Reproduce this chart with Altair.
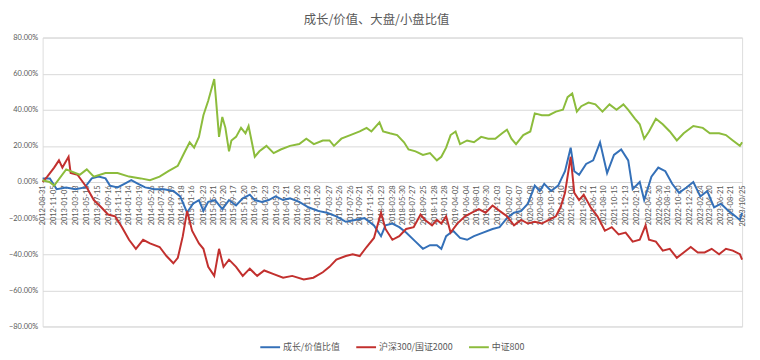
import altair as alt
import pandas as pd

TITLE = "成长/价值、大盘/小盘比值"
SERIES = ["成长/价值比值", "沪深300/国证2000", "中证800"]
COLORS = ["#3470b8", "#c2302e", "#8cbc3c"]

# 成长/价值比值 (percent)
blue_dates = ["2012-08-31", "2012-10-12", "2012-11-21", "2013-01-15", "2013-03-10", "2013-05-04", "2013-06-13",
              "2013-07-23", "2013-09-01", "2013-09-27", "2013-11-10", "2013-12-20", "2014-01-29", "2014-03-10",
              "2014-04-20", "2014-06-13", "2014-08-07", "2014-10-01", "2014-11-10", "2014-12-20", "2015-01-23",
              "2015-02-27", "2015-03-25", "2015-04-22", "2015-06-01", "2015-07-13", "2015-08-21", "2015-10-01",
              "2015-11-09", "2015-12-20", "2016-01-18", "2016-02-28", "2016-04-08", "2016-05-18", "2016-07-01",
              "2016-08-10", "2016-10-03", "2016-11-25", "2017-01-19", "2017-03-14", "2017-05-07", "2017-07-01",
              "2017-08-24", "2017-10-18", "2017-12-12", "2018-01-22", "2018-02-17", "2018-03-29", "2018-05-08",
              "2018-06-17", "2018-08-11", "2018-09-23", "2018-11-03", "2018-12-13", "2019-01-08", "2019-02-05",
              "2019-03-18", "2019-04-27", "2019-06-07", "2019-07-17", "2019-09-08", "2019-11-02", "2019-12-13",
              "2020-01-25", "2020-03-06", "2020-04-17", "2020-05-26", "2020-07-05", "2020-08-03", "2020-08-29",
              "2020-10-08", "2020-11-18", "2020-12-28", "2021-01-30", "2021-02-20", "2021-03-20", "2021-04-30",
              "2021-06-10", "2021-07-20", "2021-08-30", "2021-10-09", "2021-11-20", "2021-12-31", "2022-01-26",
              "2022-03-08", "2022-04-03", "2022-05-15", "2022-06-24", "2022-08-04", "2022-09-13", "2022-10-23",
              "2022-12-05", "2023-01-14", "2023-02-24", "2023-04-05", "2023-05-15", "2023-06-24", "2023-08-07",
              "2023-09-16", "2023-10-12", "2023-10-25"]
blue_vals = [2, 2, -4, -3, -4, -3, 2,
             3, 2, -2, -3, -1, 1, -1,
             -3, -4, -4, -5, -8, -17, -12,
             -10, -16, -11, -10, -15, -10, -13,
             -9, -7, -10, -11, -10, -8, -10,
             -9, -11, -14, -16, -17, -19, -22,
             -21, -20, -24, -30, -24, -23, -25,
             -28, -33, -37, -35, -35, -37, -30,
             -27, -31, -32, -30, -28, -26, -25,
             -20, -17, -16, -12, -2, -5, -1,
             -5, -2, 6, 19, 6, 4, 10,
             12, 22, 5, 15, 18, 12, -4,
             0, -10, 3, 8, 6, -1, -6,
             -3, 0, -8, -5, -14, -12, -16,
             -19, -21, -17]

# 沪深300/国证2000 (percent)
red_dates = ["2012-08-31", "2012-09-27", "2012-11-06", "2012-12-04", "2012-12-24", "2013-01-29", "2013-02-10",
             "2013-03-22", "2013-05-15", "2013-06-25", "2013-08-07", "2013-09-16", "2013-10-27", "2013-12-06",
             "2014-01-16", "2014-02-25", "2014-04-08", "2014-05-18", "2014-07-13", "2014-08-22", "2014-10-01",
             "2014-10-27", "2014-11-25", "2014-12-20", "2015-01-18", "2015-02-27", "2015-03-25", "2015-04-22",
             "2015-05-27", "2015-06-24", "2015-07-20", "2015-08-21", "2015-10-01", "2015-11-09", "2015-12-20",
             "2016-02-01", "2016-03-13", "2016-05-07", "2016-07-01", "2016-08-23", "2016-10-29", "2016-12-24",
             "2017-02-17", "2017-03-28", "2017-05-07", "2017-07-01", "2017-08-10", "2017-09-20", "2017-10-30",
             "2017-12-12", "2018-01-22", "2018-02-17", "2018-03-29", "2018-05-08", "2018-06-17", "2018-07-31",
             "2018-09-09", "2018-10-05", "2018-11-15", "2018-12-13", "2019-01-08", "2019-02-05", "2019-03-03",
             "2019-04-11", "2019-05-26", "2019-07-05", "2019-08-14", "2019-09-23", "2019-11-02", "2019-12-13",
             "2020-01-25", "2020-03-06", "2020-04-17", "2020-05-26", "2020-07-05", "2020-08-15", "2020-09-25",
             "2020-11-05", "2020-12-02", "2020-12-28", "2021-01-30", "2021-02-20", "2021-03-20", "2021-04-16",
             "2021-05-26", "2021-07-05", "2021-08-17", "2021-09-26", "2021-11-05", "2021-12-16", "2022-01-26",
             "2022-03-08", "2022-04-11", "2022-05-01", "2022-06-10", "2022-07-20", "2022-08-30", "2022-10-10",
             "2022-11-19", "2022-12-30", "2023-02-09", "2023-03-21", "2023-05-01", "2023-06-13", "2023-07-23",
             "2023-09-01", "2023-10-12", "2023-10-25"]
red_vals = [0, 3, 8, 12, 8, 14, 5,
            4, -3, -10, -14, -18, -19, -25,
            -32, -37, -32, -34, -36, -41, -45,
            -42, -30, -16, -27, -34, -37, -47,
            -52, -37, -47, -43, -47, -52, -48,
            -52, -49, -51, -53, -52, -54, -53,
            -50, -47, -43, -41, -40, -41, -36,
            -31, -17, -26, -32, -30, -26, -25,
            -18, -21, -24, -21, -23, -19, -28,
            -23, -19, -17, -15, -17, -13, -16,
            -19, -24, -21, -23, -22, -23, -21,
            -19, -14, -6, 14, -6, -10, -7,
            -14, -19, -27, -25, -29, -28, -33,
            -32, -24, -32, -33, -38, -37, -42,
            -39, -36, -39, -39, -37, -40, -37,
            -38, -40, -43]

# 中证800 (percent)
green_dates = ["2012-08-31", "2012-10-10", "2012-11-06", "2013-01-15", "2013-02-10", "2013-04-04", "2013-05-15",
               "2013-06-25", "2013-09-01", "2013-11-10", "2014-01-16", "2014-03-25", "2014-05-18", "2014-07-13",
               "2014-09-02", "2014-10-27", "2014-12-08", "2015-01-04", "2015-01-30", "2015-02-27", "2015-03-25",
               "2015-04-22", "2015-05-27", "2015-06-06", "2015-06-24", "2015-07-13", "2015-07-31", "2015-08-21",
               "2015-09-04", "2015-10-01", "2015-10-30", "2015-11-25", "2015-12-13", "2015-12-30", "2016-01-18",
               "2016-02-14", "2016-03-26", "2016-05-07", "2016-06-17", "2016-08-10", "2016-10-03", "2016-11-13",
               "2016-12-27", "2017-02-17", "2017-03-28", "2017-04-23", "2017-06-05", "2017-07-27", "2017-09-20",
               "2017-10-30", "2017-11-27", "2018-01-13", "2018-02-03", "2018-03-14", "2018-04-26", "2018-06-05",
               "2018-07-01", "2018-08-11", "2018-09-23", "2018-11-03", "2018-12-13", "2019-01-08", "2019-02-05",
               "2019-03-03", "2019-04-01", "2019-04-27", "2019-06-07", "2019-07-17", "2019-08-28", "2019-10-08",
               "2019-11-18", "2019-12-28", "2020-01-25", "2020-02-20", "2020-03-18", "2020-04-29", "2020-06-09",
               "2020-07-05", "2020-08-15", "2020-09-25", "2020-11-05", "2020-12-16", "2021-01-12", "2021-02-08",
               "2021-03-07", "2021-04-02", "2021-05-14", "2021-06-23", "2021-08-03", "2021-09-13", "2021-10-24",
               "2021-12-03", "2021-12-31", "2022-02-09", "2022-03-08", "2022-04-03", "2022-05-01", "2022-06-10",
               "2022-07-20", "2022-08-30", "2022-10-10", "2022-11-19", "2023-01-14", "2023-03-10", "2023-04-20",
               "2023-06-13", "2023-07-23", "2023-09-01", "2023-10-12", "2023-10-25"]
green_vals = [1, 0, -2, 7, 6, 4, 7,
              3, 5, 5, 3, 2, 1, 3,
              6, 9, 17, 22, 19, 25, 37,
              45, 57, 46, 25, 36, 30, 17,
              23, 25, 30, 27, 31, 23, 14,
              17, 20, 16, 18, 20, 21, 24,
              21, 23, 23, 20, 24, 26, 28,
              30, 28, 33, 28, 27, 26, 22,
              18, 17, 15, 16, 12, 14, 19,
              26, 28, 21, 23, 22, 25, 24,
              24, 27, 29, 24, 21, 26, 28,
              38, 37, 37, 39, 40, 47, 49,
              39, 42, 44, 43, 39, 43, 40,
              43, 40, 35, 32, 24, 28, 35,
              32, 28, 23, 27, 31, 30, 27,
              27, 26, 23, 20, 22]

TICK_DATES = ["2012-08-31", "2012-11-05", "2013-01-07", "2013-03-13", "2013-05-15", "2013-07-15", "2013-09-16",
              "2013-11-13", "2014-01-14", "2014-03-19", "2014-05-26", "2014-07-24", "2014-09-19", "2014-11-18",
              "2015-01-16", "2015-03-23", "2015-05-21", "2015-07-20", "2015-09-17", "2015-11-20", "2016-01-19",
              "2016-03-23", "2016-05-23", "2016-07-21", "2016-09-20", "2016-11-23", "2017-01-20", "2017-03-27",
              "2017-05-26", "2017-07-26", "2017-09-21", "2017-11-24", "2018-01-23", "2018-03-28", "2018-05-30",
              "2018-07-27", "2018-09-25", "2018-11-28", "2019-01-28", "2019-04-02", "2019-06-04", "2019-08-01",
              "2019-09-30", "2019-12-03", "2020-02-07", "2020-04-07", "2020-06-08", "2020-08-06", "2020-10-13",
              "2020-12-10", "2021-02-04", "2021-04-12", "2021-06-11", "2021-08-10", "2021-10-15", "2021-12-13",
              "2022-02-17", "2022-04-26", "2022-06-30", "2022-08-16", "2022-10-20", "2022-12-23", "2023-02-24",
              "2023-04-20", "2023-06-21", "2023-08-21", "2023-10-25"]
Y_TICKS = [-80, -60, -40, -20, 0, 20, 40, 60, 80]

rows = []
for name, ds, vs in zip(SERIES, [blue_dates, red_dates, green_dates], [blue_vals, red_vals, green_vals]):
    for d, v in zip(ds, vs):
        rows.append({"date": d, "value": v / 100.0, "series": name})
df = pd.DataFrame(rows)

tick_ms = [int(pd.Timestamp(d).value // 10**6) for d in TICK_DATES]
dom_ms = [tick_ms[0], tick_ms[-1]]

W, H = 707, 292
GRID = "#d9d9d9"
TXT = "#595959"

label_expr = ("utcFormat(datum.value, '%Y-%m-%d') == '2023-10-25' ? '2023/10/25' : "
              "utcFormat(datum.value, '%Y-%m-%d')")

chart = alt.Chart(df).mark_line(strokeWidth=2, interpolate="linear").encode(
    x=alt.X("date:T",
            scale=alt.Scale(type="utc", domain=dom_ms, nice=False),
            axis=alt.Axis(title=None, orient="bottom", offset=-H / 2, values=tick_ms,
                          labelExpr=label_expr, labelAngle=270, labelFontSize=7.5,
                          labelFont="Lato", labelColor=TXT, labelOverlap=False, labelBound=False,
                          labelFlush=False, labelPadding=3, ticks=False, grid=False,
                          domainColor=GRID, domainWidth=1)),
    y=alt.Y("value:Q",
            scale=alt.Scale(domain=[-0.8, 0.8], nice=False, zero=False),
            axis=alt.Axis(title=None, values=[t / 100 for t in Y_TICKS], format=".2%",
                          labelFontSize=7.5, labelFont="Lato", labelColor=TXT, labelPadding=5,
                          ticks=False, domain=False, grid=True, gridColor=GRID, gridWidth=1)),
    color=alt.Color("series:N",
                    scale=alt.Scale(domain=SERIES, range=COLORS),
                    legend=alt.Legend(title=None, orient="none", legendX=219, legendY=302,
                                      direction="horizontal", symbolType="stroke", symbolSize=400,
                                      symbolStrokeWidth=2, labelFontSize=9, labelColor=TXT,
                                      labelFont="Noto Sans CJK SC", columnPadding=12,
                                      labelOffset=2)),
    detail="series:N",
).properties(
    width=W, height=H,
    title=alt.TitleParams(TITLE, fontSize=12.5, color=TXT, fontWeight="normal", font="Noto Sans CJK SC",
                          anchor="middle", dx=-16, offset=7),
    autosize=alt.AutoSizeParams(type="none"),
    padding={"left": 35, "top": 28, "right": 10, "bottom": 30},
).configure_view(stroke=None).configure(background="white")

chart.save("out.html", embed_options={"renderer": "svg", "actions": False})
